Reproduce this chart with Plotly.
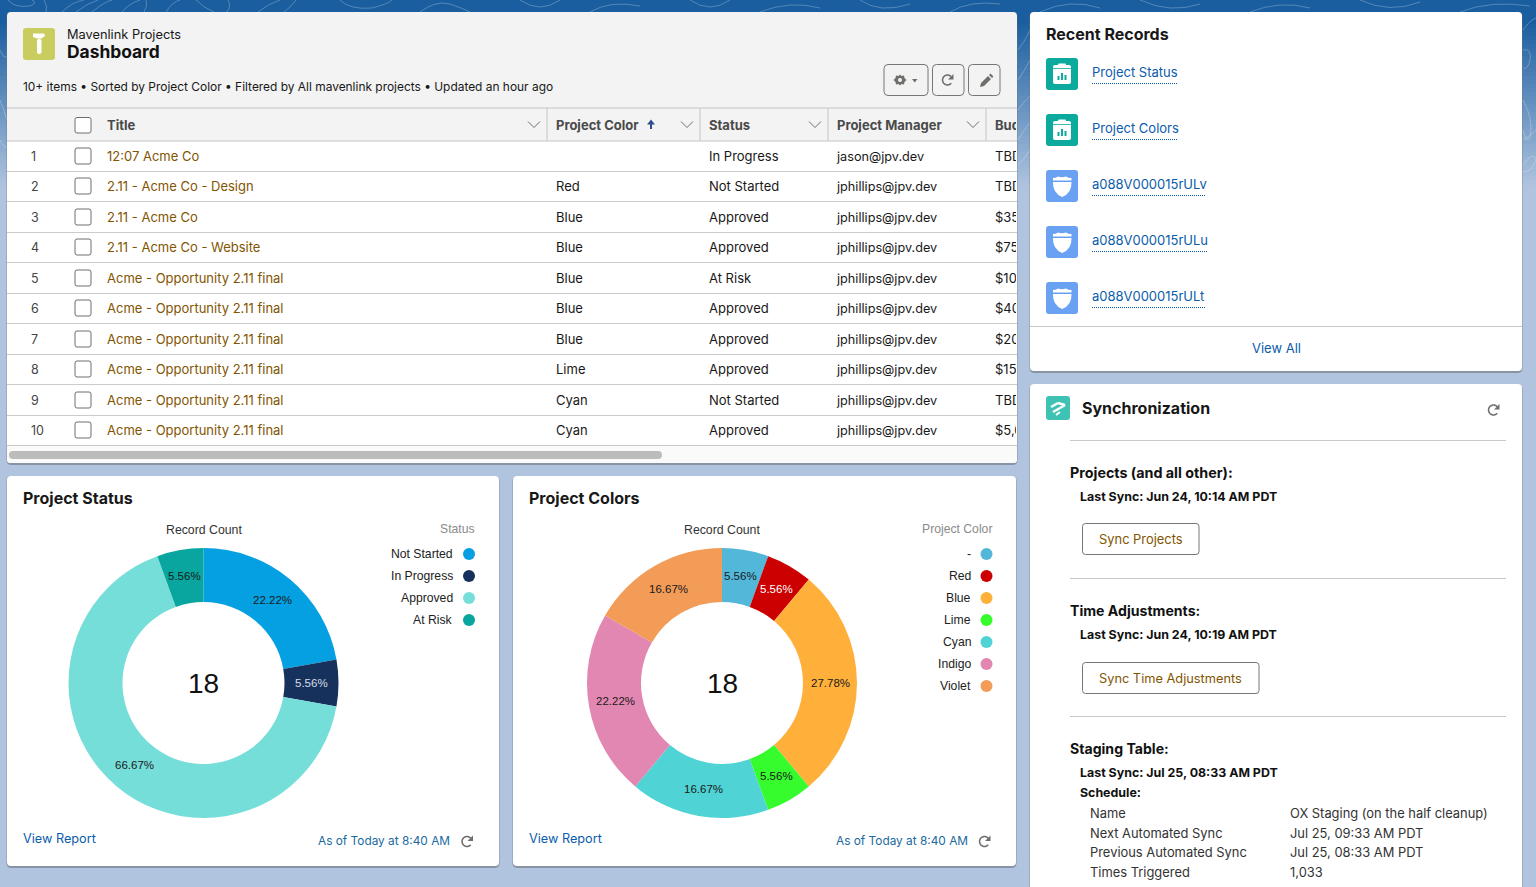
import math

import plotly.graph_objects as go

# table data
row_numbers = ["1", "2", "3", "4", "5", "6", "7", "8", "9", "10"]
row_y = [156, 186, 217, 247, 278, 308, 339, 369, 400, 430]
titles = ["12:07 Acme Co", "2.11 - Acme Co - Design", "2.11 - Acme Co", "2.11 - Acme Co - Website",
          "Acme - Opportunity 2.11 final", "Acme - Opportunity 2.11 final", "Acme - Opportunity 2.11 final",
          "Acme - Opportunity 2.11 final", "Acme - Opportunity 2.11 final", "Acme - Opportunity 2.11 final"]
project_colors = ["", "Red", "Blue", "Blue", "Blue", "Blue", "Blue", "Lime", "Cyan", "Cyan"]
statuses = ["In Progress", "Not Started", "Approved", "Approved", "At Risk",
            "Approved", "Approved", "Approved", "Not Started", "Approved"]
managers = ["jason@jpv.dev"] + ["jphillips@jpv.dev"] * 9
budgets = ["TBD", "TBD", "$35,000", "$75,000", "$10,000", "$40,000", "$20,000", "$15,000", "TBD", "$5,000"]
header_labels = ["Title", "Project Color", "Status", "Project Manager", "Budget"]

# donut data
status_labels = ["Not Started", "In Progress", "Approved", "At Risk"]
status_counts = [4, 1, 12, 1]
status_colors = ["#04a0e2", "#16325c", "#76ded9", "#08a69e"]
status_text = ["#1a1a1a", "#d8dde6", "#1a1a1a", "#1a1a1a"]

color_labels = ["-", "Red", "Blue", "Lime", "Cyan", "Indigo", "Violet"]
color_counts = [1, 1, 5, 1, 3, 4, 3]
color_colors = ["#52b7d8", "#cc0000", "#ffb03b", "#36fc2e", "#4fd3d4", "#e287b2", "#f29c58"]
color_text = ["#1a1a1a", "#ffffff", "#1a1a1a", "#1a1a1a", "#1a1a1a", "#1a1a1a", "#1a1a1a"]

# side panels
recent_records = ["Project Status", "Project Colors", "a088V000015rULv", "a088V000015rULu", "a088V000015rULt"]
recent_widths = [86, 86, 114, 116, 113]
schedule_names = ["Name", "Next Automated Sync", "Previous Automated Sync", "Times Triggered"]
schedule_values = ["OX Staging (on the half cleanup)", "Jul 25, 09:33 AM PDT", "Jul 25, 08:33 AM PDT", "1,033"]
schedule_y = [813, 833, 852, 872]

W, H = 1536, 887
UI = "Inter"
CHART = "Liberation Sans"
LINK = "#0b5cab"
BROWN = "#825501"
ICON = "#706e6b"

shapes = []
annotations = []


def rrect(x0, y0, x1, y1, r):
    return (f"M{x0+r},{y0} L{x1-r},{y0} Q{x1},{y0} {x1},{y0+r} L{x1},{y1-r} Q{x1},{y1} {x1-r},{y1} "
            f"L{x0+r},{y1} Q{x0},{y1} {x0},{y1-r} L{x0},{y0+r} Q{x0},{y0} {x0+r},{y0} Z")


def add_path(path, fill=None, line=None, width=1, dash=None, layer="below"):
    shapes.append(dict(type="path", path=path, xref="x", yref="y", layer=layer,
                       fillcolor=fill or "rgba(0,0,0,0)",
                       line=dict(color=line or "rgba(0,0,0,0)", width=width if line else 0, dash=dash)))


def add_rect(x0, y0, x1, y1, fill, r=0, line=None, width=1):
    if r:
        add_path(rrect(x0, y0, x1, y1, r), fill, line, width)
    else:
        shapes.append(dict(type="rect", x0=x0, y0=y0, x1=x1, y1=y1, xref="x", yref="y", layer="below",
                           fillcolor=fill, line=dict(width=width if line else 0, color=line or fill)))


def add_line(x0, y0, x1, y1, color="#c9c9c9", width=1, dash=None):
    shapes.append(dict(type="line", x0=x0, y0=y0, x1=x1, y1=y1, xref="x", yref="y", layer="below",
                       line=dict(color=color, width=width, dash=dash)))


def add_text(x, y, text, size=13, color="#181818", anchor="left", family=UI, weight=400):
    annotations.append(dict(x=x, y=y, xref="x", yref="y", text=text, showarrow=False, xanchor=anchor,
                            yanchor="middle", align=anchor, borderpad=0, borderwidth=0,
                            font=dict(family=family, size=size, color=color, weight=weight)))


def add_refresh(cx, cy, r=5, color=ICON):
    pts = []
    for deg in range(-40, -340, -20):
        a = math.radians(deg)
        pts.append(f"{cx+r*math.cos(a):.2f},{cy+r*math.sin(a):.2f}")
    add_path("M" + " L".join(pts), None, color, 1.5)
    add_path(f"M{cx+r+1},{cy-r-1} L{cx+r+1},{cy-r*0.1} L{cx+r*0.1},{cy-r*0.1} Z", color)


def add_chevron(cx, cy):
    add_path(f"M{cx-6},{cy-3} L{cx},{cy+3} L{cx+6},{cy-3}", None, ICON, 1)


# background gradient
top = (27, 94, 159)
bottom = (176, 196, 223)
for y in range(0, 200, 4):
    t = min(1, max(0, (y - 20) / 165))
    c = [round(a + (b - a) * t) for a, b in zip(top, bottom)]
    add_rect(0, y, W, y + 4, f"rgb({c[0]},{c[1]},{c[2]})")
add_rect(0, 200, W, H, "#b0c4df")

# faint contour lines showing in the gaps
contours = ["M8,0 Q14,8 30,6 Q38,3 32,0", "M44,0 Q48,6 46,12", "M62,12 Q72,2 84,0", "M76,12 Q88,3 98,0",
            "M92,12 Q104,2 112,0", "M122,12 Q128,4 140,0", "M146,0 Q148,6 144,12", "M166,12 Q172,2 180,0",
            "M196,0 Q204,8 214,12", "M228,0 Q232,8 226,12", "M258,12 Q268,4 280,0", "M296,0 Q290,8 284,12",
            "M340,0 Q350,10 372,8 Q388,4 392,0", "M420,12 Q436,0 450,4 Q462,8 470,12", "M520,0 Q540,14 560,0",
            "M590,12 Q610,0 640,6", "M690,0 Q710,14 730,0", "M760,12 Q790,0 820,8", "M860,0 Q880,14 910,4",
            "M950,12 Q970,0 1000,4", "M1040,12 Q1070,-2 1100,8", "M1140,0 Q1170,14 1200,4", "M1250,12 Q1280,0 1310,8",
            "M1360,0 Q1390,14 1420,2", "M1460,12 Q1490,0 1530,6",
            "M1018,50 Q1026,40 1030,30", "M1018,80 Q1024,72 1030,60", "M1018,110 Q1025,100 1030,96",
            "M1018,140 Q1024,130 1030,122", "M1018,165 Q1024,160 1030,150",
            "M1523,50 Q1532,48 1530,60 Q1528,70 1523,68", "M1523,100 Q1534,120 1530,138 Q1526,144 1523,130",
            "M1523,165 Q1534,150 1536,160 Q1532,172 1523,172", "M1523,30 Q1530,20 1536,18", "M1523,140 Q1530,136 1536,130",
            "M0,50 Q4,60 7,56", "M0,100 Q4,110 7,120", "M0,140 Q5,150 7,146"]
for path in contours:
    add_path(path, None, "rgba(255,255,255,0.25)", 1)


def add_card(x0, y0, x1, y1, fill="#ffffff"):
    add_rect(x0 - 0.5, y0, x1 + 0.5, y1 + 2, "rgba(110,115,125,0.6)", r=5)
    add_rect(x0, y0, x1, y1, fill, r=4)


# main table card
add_card(7, 12, 1017, 463, "#f3f3f3")
add_rect(7, 141, 1017, 446, "#ffffff")
add_path(rrect(7, 446, 1017, 463, 3), "#fafafa")
add_rect(9, 451, 662, 459, "#bcbcbc", r=4)
add_line(7, 108, 1017, 108, "#c4c4c4")
add_line(7, 141, 1017, 141, "#c4c4c4")
for y in row_y:
    add_line(7, y + 15.5, 1017, y + 15.5, "#cbcbcb")
for x in [547, 700, 828, 986]:
    add_line(x, 108, x, 141, "#c4c4c4")
for x in [534, 687, 815, 973]:
    add_chevron(x, 124.5)
add_path("M651,119.5 L655,124.5 L652,124.5 L652,129 L650,129 L650,124.5 L647,124.5 Z", "#2e4f8f")
add_rect(75, 117.5, 91, 133, "#ffffff", r=2, line="#706e6b")
for y in row_y:
    add_rect(75, y - 8, 91, y + 8, "#ffffff", r=2, line="#706e6b")

# header of the table card
add_rect(23, 28, 55, 60, "#c9cd5e", r=3)
add_path("M33,33.5 L44,33.5 L45,36 L41.5,38.5 L37,38.5 L33,37 Z", "#ffffff")
add_rect(37, 39, 41.5, 54, "#ffffff", r=2)
add_text(67, 34.5, "Mavenlink Projects", 12.8)
add_text(67, 51, "Dashboard", 17.4, "#111111", weight=700)
add_text(23, 86, "10+ items • Sorted by Project Color • Filtered by All mavenlink projects • Updated an hour ago", 11.93)

add_rect(884, 64.5, 928, 95.5, "#f3f3f3", r=4, line="#767676")
add_rect(932.5, 64.5, 964, 95.5, "#f3f3f3", r=4, line="#767676")
add_rect(968.5, 64.5, 1000, 95.5, "#f3f3f3", r=4, line="#767676")
add_path("M900,74.5 L901.5,76 L904,75.5 L904.5,78 L906.5,80 L904.5,82 L904,84.5 L901.5,84 L900,85.5 L898.5,84 L896,84.5 "
         "L895.5,82 L893.5,80 L895.5,78 L896,75.5 L898.5,76 Z", ICON)
shapes.append(dict(type="circle", x0=898, y0=78, x1=902, y1=82, xref="x", yref="y", layer="below",
                   fillcolor="#f3f3f3", line=dict(width=0)))
add_path("M912,79 L917.5,79 L914.75,82.5 Z", ICON)
add_refresh(947.5, 80)
add_path("M980,87 L981,83 L988,76 L991,79 L984,86 Z M989,75 L990.5,73.5 L993.5,76.5 L992,78 Z", ICON)

# right column cards
add_card(1030, 12, 1522, 371)
add_text(1046, 33.5, "Recent Records", 16, "#181818", weight=700)
for i, (name, width) in enumerate(zip(recent_records, recent_widths)):
    y0 = 58 + 56 * i
    if i < 2:
        add_rect(1046, y0, 1078, y0 + 32, "#0caa9c", r=3)
        add_rect(1053, y0 + 7, 1071, y0 + 26, "#ffffff", r=2)
        add_rect(1058, y0 + 5.5, 1066, y0 + 9, "#ffffff", r=1)
        add_line(1053, y0 + 10.5, 1071, y0 + 10.5, "#0caa9c", 0.8)
        for bx, bh in [(1058.5, 4), (1062, 7), (1065.5, 5)]:
            add_line(bx, y0 + 22, bx, y0 + 22 - bh, "#0caa9c", 2)
    else:
        add_rect(1046, y0, 1078, y0 + 32, "#6aa1f2", r=3)
        add_path(f"M1053,{y0+8} Q1056,{y0+8} 1058,{y0+6.5} Q1062,{y0+8} 1066,{y0+6.5} Q1068,{y0+8} 1071.5,{y0+8} "
                 f"L1071.5,{y0+10.5} L1053,{y0+10.5} Z", "#ffffff")
        add_path(f"M1053,{y0+12} L1071.5,{y0+12} Q1072,{y0+23} 1062.2,{y0+27} Q1052.5,{y0+23} 1053,{y0+12} Z", "#ffffff")
    add_text(1092, y0 + 13.5, name, 13, LINK)
    add_line(1092, y0 + 25.5, 1092 + width, y0 + 25.5, "#0b5cab", 1, "1px,1px")
add_line(1030, 326.5, 1522, 326.5, "#c9c9c9")
add_text(1276, 347.5, "View All", 13, LINK, "center")

add_card(1030, 384, 1522, 900)
add_rect(1046, 396, 1070, 420, "#3dc2b4", r=3)
add_line(1051, 407, 1058, 403, "#ffffff", 2.5)
add_line(1058, 403, 1065, 405, "#ffffff", 2.5)
add_line(1053, 412, 1060, 408, "#ffffff", 2.5)
add_line(1060, 408, 1065, 405, "#ffffff", 2.5)
add_line(1056, 415, 1060, 412, "#ffffff", 2)
add_text(1082, 407.5, "Synchronization", 16, "#181818", weight=700)
add_refresh(1493.5, 410)
for y in [440.5, 578.5, 716.5]:
    add_line(1070, y, 1506, y, "#c9c9c9")
add_text(1070, 472, "Projects (and all other):", 14.3, "#111111", weight=700)
add_text(1080, 496.5, "Last Sync: Jun 24, 10:14 AM PDT", 12.4, "#111111", weight=700)
add_rect(1082.5, 523.5, 1199, 554.5, "#ffffff", r=3, line="#767676")
add_text(1099, 539.5, "Sync Projects", 12.9, BROWN)
add_text(1070, 610, "Time Adjustments:", 14.1, "#111111", weight=700)
add_text(1080, 634.5, "Last Sync: Jun 24, 10:19 AM PDT", 12.4, "#111111", weight=700)
add_rect(1082.5, 662.5, 1259, 693.5, "#ffffff", r=3, line="#767676")
add_text(1099, 678.5, "Sync Time Adjustments", 12.8, BROWN)
add_text(1070, 748, "Staging Table:", 14.1, "#111111", weight=700)
add_text(1080, 772.5, "Last Sync: Jul 25, 08:33 AM PDT", 12.4, "#111111", weight=700)
add_text(1080, 792.5, "Schedule:", 12.4, "#111111", weight=700)
for name, value, y in zip(schedule_names, schedule_values, schedule_y):
    add_text(1090, y + 0.5, name, 12.9, "#333333")
    add_text(1290, y + 0.5, value, 12.9, "#333333")

fig = go.Figure()


def add_column(x, values, color="#181818", size=13, weight=400, ys=None):
    # plotly sets text traces a little high, the 2px brings them onto the row centre
    ys = ys or row_y
    fig.add_trace(go.Scatter(
        x=[x] * len(values), y=[y + 2 for y in ys], text=values, mode="text", textposition="middle right",
        textfont=dict(family=UI, size=size, color=color, weight=weight),
        xaxis="x2", yaxis="y2", hoverinfo="skip", cliponaxis=True, showlegend=False))


add_column(31, row_numbers, "#444444", 12.5)
add_column(107, titles, BROWN)
add_column(556, project_colors)
add_column(709, statuses)
add_column(837, managers, size=12.7)
add_column(995, budgets)
add_column(107, header_labels[:1], "#4a4a4a", 13, 700, [125])
add_column(556, header_labels[1:2], "#4a4a4a", 13, 700, [125])
add_column(709, header_labels[2:3], "#4a4a4a", 13, 700, [125])
add_column(837, header_labels[3:4], "#4a4a4a", 13, 700, [125])
add_column(995, header_labels[4:], "#4a4a4a", 13, 700, [125])


def add_chart(x0, x1, title, cx, labels, counts, colors, text_colors, legend_title, asof_right):
    add_card(x0, 476, x1, 866)
    add_text(x0 + 16, 497.5, title, 16, "#181818", weight=700)
    add_text(cx, 530, "Record Count", 12.3, "#333333", "center", CHART)
    add_text(asof_right + 24.5, 528.5, legend_title, 12.2, "#8a8a8a", "right", CHART)
    fig.add_trace(go.Pie(
        labels=labels, values=counts, hole=0.6, sort=False, direction="clockwise", rotation=0,
        marker=dict(colors=colors, line=dict(width=0)), textinfo="none",
        domain=dict(x=[(cx - 135) / W, (cx + 135) / W], y=[1 - 818 / H, 1 - 548 / H]),
        hoverinfo="skip", showlegend=False))
    # percent labels sit at the middle of the ring, whatever the slice size
    total = sum(counts)
    done = 0
    for count, text_color in zip(counts, text_colors):
        a = 2 * math.pi * (done + count / 2) / total
        add_text(cx + 108 * math.sin(a), 682.5 - 108 * math.cos(a), f"{count / total:.2%}", 11.5, text_color,
                 "center", CHART)
        done += count
    add_text(cx, 683, "18", 28, "#111111", "center", CHART)
    legend_y = [554 + 22 * i for i in range(len(labels))]
    fig.add_trace(go.Scatter(
        x=[asof_right + 19] * len(labels), y=legend_y, mode="markers",
        marker=dict(color=colors, size=12, line=dict(width=0)),
        hoverinfo="skip", showlegend=False))
    for label, y in zip(labels, legend_y):
        add_text(asof_right + 3, y, label, 12.2, "#222222", "right", CHART)
    add_text(x0 + 16, 838.5, "View Report", 12.7, LINK)
    add_text(asof_right, 841, "As of Today at 8:40 AM", 11.85, "#1a6aa0", "right")
    add_refresh(asof_right + 17, 841.5)


add_chart(7, 499, "Project Status", 203.5, status_labels, status_counts, status_colors, status_text, "Status", 450)
add_chart(513, 1016, "Project Colors", 722, color_labels, color_counts, color_colors, color_text, "Project Color", 967.5)

axis = dict(visible=False, fixedrange=True)
fig.update_layout(
    width=W, height=H, margin=dict(l=0, r=0, t=0, b=0), autosize=False,
    paper_bgcolor="#b0c4df", plot_bgcolor="rgba(0,0,0,0)", showlegend=False,
    xaxis=dict(range=[0, W], domain=[0, 1], **axis),
    yaxis=dict(range=[H, 0], domain=[0, 1], **axis),
    xaxis2=dict(range=[0, 1016], domain=[0, 1016 / W], anchor="y2", **axis),
    yaxis2=dict(range=[H, 0], domain=[0, 1], anchor="x2", **axis),
    shapes=shapes, annotations=annotations,
)

fig.write_html("out.html", config=dict(displayModeBar=False),
               post_script="document.body.style.margin='0';document.body.style.overflow='hidden';")
